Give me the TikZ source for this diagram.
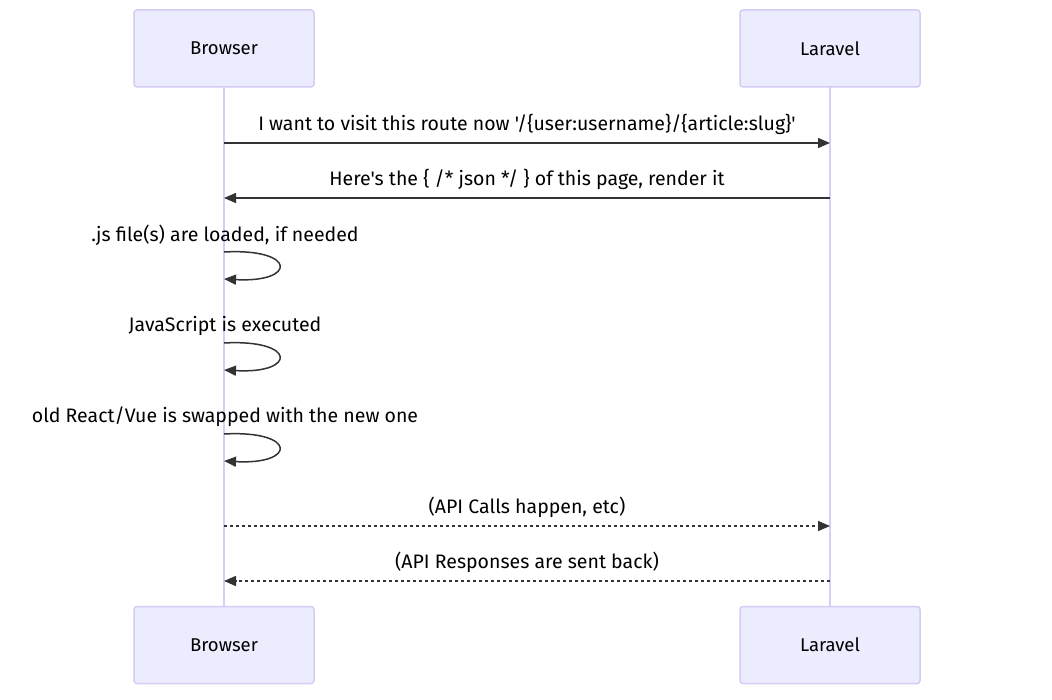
\documentclass[tikz,border=0pt]{standalone}
\usepackage{fontspec}
\setmainfont{Fira Sans}[Ligatures=TeXOff]
\usetikzlibrary{arrows.meta,positioning}
\definecolor{actorfill}{RGB}{236,236,255}
\definecolor{actorline}{RGB}{212,204,245}
\definecolor{lifeline}{RGB}{214,206,248}
\definecolor{msgline}{RGB}{51,51,51}
\tikzset{
    actor/.style={draw=actorline, fill=actorfill, rounded corners=3pt, line width=1.5pt,
        minimum width=180pt, minimum height=77pt, inner sep=0pt, font=\fontsize{18.5}{21}\selectfont},
    msg/.style={draw=msgline, line width=1.5pt, -{Triangle[length=12pt,width=10pt]}},
    reply/.style={msg, dash pattern=on 3pt off 3pt},
    msgtext/.style={font=\fontsize{19.5}{22}\selectfont, text=black, inner sep=0pt}
}
\begin{document}
\begin{tikzpicture}[x=1pt,y=-1pt]
    \useasboundingbox (0,0) rectangle (1052,700);
    % lifelines
    \draw[lifeline, line width=2pt] (224,87) -- (224,606);
    \draw[lifeline, line width=2pt] (830,87) -- (830,606);
    % actors
    \node[actor] (browserTop) at (224,48.5) {Browser};
    \node[actor] (laravelTop) at (830,48.5) {Laravel};
    \node[actor] (browserBot) at (224,645) {Browser};
    \node[actor] (laravelBot) at (830,645) {Laravel};
    % message points
    \coordinate (b1) at (224,143); \coordinate (l1) at (830,143);
    \coordinate (b2) at (224,198); \coordinate (l2) at (830,198);
    \coordinate (b6) at (224,526); \coordinate (l6) at (830,526);
    \coordinate (b7) at (224,581); \coordinate (l7) at (830,581);
    \draw[msg] (b1) -- (l1);
    \node[msgtext] (t1) at (527,124) {I want to visit this route now '/\{user:username\}/\{article:slug\}'};
    \draw[msg] (l2) -- (b2);
    \node[msgtext] (t2) at (527,179) {Here's the \{ /* json */ \} of this page, render it};
    % self messages
    \foreach \y/\txt in {252/{.js file(s) are loaded, if needed},343/{JavaScript is executed},434/{old React/Vue is swapped with the new one}} {
        \coordinate (s) at (224,\y);
        \coordinate (e) at (224,\y+27);
        \draw[msg] (s) .. controls (297,\y-4) and (297,\y+31) .. (e);
        \node[msgtext] at (225,\y-17) {\txt};
    }
    \draw[reply] (b6) -- (l6);
    \node[msgtext] (t6) at (527,507) {(API Calls happen, etc)};
    \draw[reply] (l7) -- (b7);
    \node[msgtext] (t7) at (527,562) {(API Responses are sent back)};
\end{tikzpicture}
\end{document}
